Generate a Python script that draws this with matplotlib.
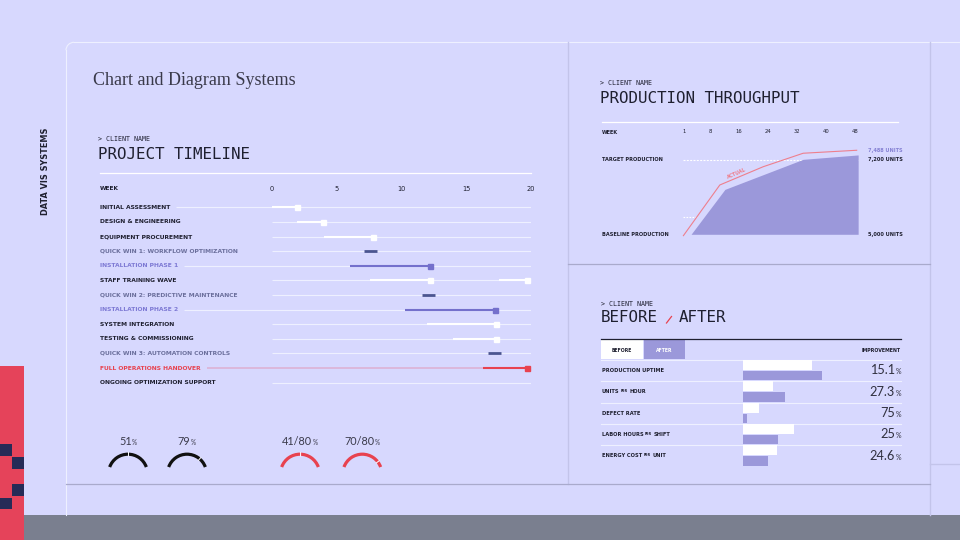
import matplotlib
matplotlib.use("Agg")
import numpy as np
import matplotlib.pyplot as plt
from matplotlib import transforms
from matplotlib.patches import Rectangle, Arc
from matplotlib.transforms import offset_copy

BG = "#d7d8fe"
INK = "#1f2030"
TRACK = "#eef0ff"
SLATE = "#4b5590"
SLATE_TXT = "#6b6f9c"
PURPLE = "#7470cc"
PURPLE_TXT = "#7d79d4"
LAV = "#9b98da"
RED = "#e8424f"
PINK = "#dcb2d4"
ACT_RED = "#ee7f8d"
FRAME = "#c3c4ea"
RULE = "#a9aacc"
MONO = "DejaVu Sans Mono"
LIGHT = ["Lato", "DejaVu Sans"]

# project timeline (weeks)
TASKS = [
    "INITIAL ASSESSMENT", "DESIGN & ENGINEERING", "EQUIPMENT PROCUREMENT",
    "QUICK WIN 1: WORKFLOW OPTIMIZATION", "INSTALLATION PHASE 1", "STAFF TRAINING WAVE",
    "QUICK WIN 2: PREDICTIVE MAINTENANCE", "INSTALLATION PHASE 2", "SYSTEM INTEGRATION",
    "TESTING & COMMISSIONING", "QUICK WIN 3: AUTOMATION CONTROLS",
    "FULL OPERATIONS HANDOVER", "ONGOING OPTIMIZATION SUPPORT",
]
TASK_KIND = ["task", "task", "task", "quick", "phase", "task", "quick", "phase",
             "task", "task", "quick", "handover", "ongoing"]
TASK_START = [0, 1.9, 4.0, 7.1, 6.0, 7.6, 11.6, 10.3, 12.0, 14.0, 16.7, 16.3, 17.6]
TASK_END = [1.9, 3.9, 7.8, 8.1, 12.2, 12.2, 12.6, 17.2, 17.3, 17.3, 17.7, 19.7, 20.05]
EXTRA_ROW = [5]          # staff training has a second block
EXTRA_START = [17.5]
EXTRA_END = [19.7]
LABEL_TRACK_ROWS = [0, 4, 7, 11]
WEEK_TICKS = [0, 5, 10, 15, 20]

# gauges
GAUGE_TEXT = ["51", "79", "41/80", "70/80"]
GAUGE_VALUE = [0.51, 0.79, 41 / 80, 70 / 80]
GAUGE_COLOR = ["#111111", "#111111", RED, RED]

# production throughput
THR_TICKS = [1, 8, 16, 24, 32, 40, 48]
ACTUAL_WEEKS = [0.7, 10.7, 22.6, 33.6, 48.3]
ACTUAL_UNITS = [4960, 6460, 7000, 7400, 7488]
PLAN_WEEKS = [2.8, 12.1, 33.6, 48.7]
PLAN_UNITS = [5000, 6330, 7220, 7350]
BASELINE = 5000
TARGET = 7200
GUIDE = 5500
UNIT_VALUES = [7488, 7200, 5000]
UNIT_TEXT = ["7,488 UNITS", "7,200 UNITS", "5,000 UNITS"]

# before / after
METRICS = [["PRODUCTION UPTIME"], ["UNITS", "HOUR"], ["DEFECT RATE"],
           ["LABOR HOURS", "SHIFT"], ["ENERGY COST", "UNIT"]]
BEFORE = [69, 30, 16, 51, 34]
AFTER = [79, 42, 4, 35, 25]
IMPROVEMENT = ["15.1", "27.3", "75", "25", "24.6"]

fig = plt.figure(figsize=(9.6, 5.4), dpi=100, facecolor=BG)
renderer = fig.canvas.get_renderer()

ov = fig.add_axes([0, 0, 1, 1])
ov.set_xlim(0, 960)
ov.set_ylim(540, 0)
ov.axis("off")
ov.set_zorder(0)


def px_axes(x0, y0, x1, y1):
    ax = fig.add_axes([x0 / 960, 1 - y1 / 540, (x1 - x0) / 960, (y1 - y0) / 540])
    ax.set_facecolor("none")
    for s in ax.spines.values():
        s.set_visible(False)
    ax.set_yticks([])
    ax.set_zorder(1)
    return ax


def run_text(ax, x, y, pieces, transform, align="left", va="baseline", dy0=0.0):
    # pieces: (text, size, color, weight, family, dy, gap)
    items = []
    for s, size, color, weight, family, dy, gap in pieces:
        t = ax.text(x, y, s, transform=transform, fontsize=size, color=color,
                    fontweight=weight, family=family, ha="left", va=va)
        items.append((t, t.get_window_extent(renderer).width, dy, gap))
    total = sum(w + g for _, w, _, g in items) - items[-1][3]
    adv = {"left": 0.0, "center": -total / 2, "right": -total}[align]
    for t, w, dy, gap in items:
        t.set_transform(offset_copy(transform, fig=fig, x=adv, y=dy + dy0, units="dots"))
        adv += w + gap


# ---------- frame / decoration
ov.plot([74, 960], [42.3, 42.3], color=TRACK, lw=0.8)
ov.add_patch(Arc((74, 50.3), 16, 16, theta1=180, theta2=270, color=TRACK, lw=0.8))
ov.plot([66, 66], [50.3, 515], color=TRACK, lw=0.8)
ov.plot([568, 568], [42.3, 484.3], color=FRAME, lw=1.0)
ov.plot([930, 930], [42.3, 515], color=FRAME, lw=1.0)
ov.plot([568, 930], [264.3, 264.3], color=RULE, lw=0.9)
ov.plot([66, 930], [484.3, 484.3], color=RULE, lw=0.9)
ov.plot([930, 960], [464.3, 464.3], color=FRAME, lw=1.0)
ov.add_patch(Rectangle((24, 515), 936, 25, color="#7a7f8f", lw=0))
ov.add_patch(Rectangle((0, 366), 24, 174, color="#e5435a", lw=0))
for sx, sy in [(0, 444.3), (12.3, 457.3), (12.3, 484.3), (0, 497.7)]:
    ov.add_patch(Rectangle((sx, sy), 11.7, 11.7, color="#262b57", lw=0))

ov.text(46, 171, "DATA VIS SYSTEMS", rotation=90, ha="center", va="center",
        fontsize=5.9, fontweight="bold", color=INK)
ov.text(93, 80.7, "Chart and Diagram Systems", family="Liberation Serif",
        fontsize=13, color="#3a3a4a", va="center")

# ---------- project timeline
ov.text(98, 139.3, "> CLIENT NAME", family=MONO, fontsize=4.8, color=INK, va="center")
ov.text(97.5, 154.3, "PROJECT TIMELINE", family=MONO, fontsize=11.4, color=INK, va="center")
ov.plot([100, 531], [173.3, 173.3], color="white", lw=0.9)
ov.text(100, 189, "WEEK", fontsize=4.2, fontweight="bold", color=INK, va="center")

ax_tl = px_axes(100, 200, 531, 390)
ax_tl.set_xlim(-20 * 172 / 259, 20)
ax_tl.set_ylim(len(TASKS) - 0.5, -0.5)
ax_tl.xaxis.tick_top()
ax_tl.set_xticks(WEEK_TICKS)
ax_tl.set_xticklabels([str(w) for w in WEEK_TICKS])
ax_tl.tick_params(axis="x", length=0, pad=6, labelsize=4.8, labelcolor=INK)

label_color = {"task": INK, "quick": SLATE_TXT, "phase": PURPLE_TXT,
               "handover": RED, "ongoing": INK}
x_left = ax_tl.get_xlim()[0]
for i, (name, kind) in enumerate(zip(TASKS, TASK_KIND)):
    t = ax_tl.text(x_left, i, name, fontsize=4.3, fontweight="bold",
                   color=label_color[kind], va="center", ha="left")
    track_from = 0.0
    if i in LABEL_TRACK_ROWS:
        bb = t.get_window_extent(renderer)
        track_from = ax_tl.transData.inverted().transform((bb.x1 + 6, 0))[0]
    tcolor = PINK if kind == "handover" else TRACK
    tlw = 1.2 if kind == "handover" else 0.8
    ax_tl.hlines(i, track_from, 20, color=tcolor, lw=tlw, zorder=1)

    s, e = TASK_START[i], TASK_END[i]
    if kind == "quick":
        ax_tl.hlines(i, s, e, color=SLATE, lw=2.0, zorder=3)
    elif kind == "ongoing":
        ax_tl.annotate("", xy=(e, i), xytext=(s, i),
                       arrowprops=dict(arrowstyle="-|>", color="white", lw=1.3,
                                       mutation_scale=5, shrinkA=0, shrinkB=0))
    else:
        col = {"task": "white", "phase": PURPLE, "handover": RED}[kind]
        ax_tl.hlines(i, s, e, color=col, lw=1.5, zorder=3)
        ax_tl.plot([e], [i], marker="s", ms=3.6, color=col, mec=col, zorder=4)

for r, s, e in zip(EXTRA_ROW, EXTRA_START, EXTRA_END):
    ax_tl.hlines(r, s, e, color="white", lw=1.5, zorder=3)
    ax_tl.plot([e], [r], marker="s", ms=3.6, color="white", zorder=4)

# ---------- gauges
gauge_x = [128, 187, 300, 362.3]
gauge_r = 19.5
for cx, txt, val, col in zip(gauge_x, GAUGE_TEXT, GAUGE_VALUE, GAUGE_COLOR):
    ov.add_patch(Arc((cx, 473.7), 2 * gauge_r, 2 * gauge_r, theta1=200, theta2=340,
                     color=col, lw=2.3))
    ang = np.deg2rad(160 - val * 140)
    ov.plot([cx + (gauge_r - 1.8) * np.cos(ang), cx + (gauge_r + 1.8) * np.cos(ang)],
            [473.7 - (gauge_r - 1.8) * np.sin(ang), 473.7 - (gauge_r + 1.8) * np.sin(ang)],
            color="white", lw=0.7)
    run_text(ov, cx, 444.8, [(txt, 7.8, "#3a3a4a", "normal", LIGHT, 0, 0.5),
                             ("%", 4.7, "#3a3a4a", "normal", LIGHT, 0, 0)],
             ov.transData, align="center")

# ---------- production throughput
ov.text(600, 83.3, "> CLIENT NAME", family=MONO, fontsize=4.8, color=INK, va="center")
ov.text(599.5, 98.3, "PRODUCTION THROUGHPUT", family=MONO, fontsize=11.4,
        color=INK, va="center")
ov.plot([602, 898], [122.3, 122.3], color="white", lw=0.9)
ov.text(602, 132, "WEEK", fontsize=3.6, fontweight="bold", color=INK, va="center")

ax_thr = px_axes(680, 140, 862, 240)
ax_thr.set_xlim(-0.236, 49.76)
ax_thr.set_ylim(4831, 7792)
ax_thr.xaxis.tick_top()
ax_thr.set_xticks(THR_TICKS)
ax_thr.set_xticklabels([str(w) for w in THR_TICKS])
ax_thr.tick_params(axis="x", length=0, pad=4.3, labelsize=3.8, labelcolor=INK)

guide_end = np.interp(GUIDE, ACTUAL_UNITS, ACTUAL_WEEKS)
ax_thr.hlines(GUIDE, ACTUAL_WEEKS[0], guide_end, color="white", lw=0.8,
              linestyles=(0, (1.5, 1.2)), zorder=1)
ax_thr.hlines(TARGET, ACTUAL_WEEKS[0], PLAN_WEEKS[-1], color="white", lw=0.8,
              linestyles=(0, (1.8, 1.2)), zorder=1)
ax_thr.fill_between(PLAN_WEEKS, PLAN_UNITS, BASELINE, color=LAV, lw=0, zorder=2)
ax_thr.plot(ACTUAL_WEEKS, ACTUAL_UNITS, color=ACT_RED, lw=0.8, zorder=3)
ax_thr.text(15.4, 6800, "ACTUAL", rotation=24, color=ACT_RED, fontsize=3.4,
            fontweight="bold", ha="center", va="center", rotation_mode="anchor")

thr_blend = transforms.blended_transform_factory(ov.transData, ax_thr.transData)
ax_thr.text(602, TARGET, "TARGET PRODUCTION", transform=thr_blend, fontsize=3.6,
            fontweight="bold", color=INK, va="center")
ax_thr.text(602, BASELINE, "BASELINE PRODUCTION", transform=thr_blend, fontsize=3.6,
            fontweight="bold", color=INK, va="center")
for v, txt, col in zip(UNIT_VALUES, UNIT_TEXT, ["#8682d4", INK, INK]):
    ax_thr.text(868, v, txt, transform=thr_blend, fontsize=3.6, fontweight="bold",
                color=col, va="center")

# ---------- before / after
ov.text(601, 303.7, "> CLIENT NAME", family=MONO, fontsize=4.8, color=INK, va="center")
ov.text(600.5, 318, "BEFORE", family=MONO, fontsize=11.4, color=INK, va="center")
ov.plot([666.5, 671.5], [323, 316.5], color=RED, lw=0.9)
ov.text(678.5, 318, "AFTER", family=MONO, fontsize=11.4, color=INK, va="center")
ov.plot([601, 901], [339.3, 339.3], color=INK, lw=0.9)
ov.add_patch(Rectangle((601, 340), 41.7, 19.3, color="white", lw=0))
ov.add_patch(Rectangle((644, 340), 41, 19.3, color=LAV, lw=0))
ov.text(621.8, 350, "BEFORE", fontsize=3.3, fontweight="bold", color=INK,
        ha="center", va="center")
ov.text(664.5, 350, "AFTER", fontsize=3.3, fontweight="bold", color="white",
        ha="center", va="center")
ov.text(901, 350, "IMPROVEMENT", fontsize=3.4, fontweight="bold", color=INK,
        ha="right", va="center")

ax_ba = px_axes(743.3, 360, 901, 466.7)
ax_ba.set_xlim(0, 157.7)
ax_ba.set_ylim(len(METRICS), 0)
ax_ba.set_xticks([])
ba_blend = transforms.blended_transform_factory(ov.transData, ax_ba.transData)
rows = np.arange(len(METRICS))
for i in rows:
    ax_ba.plot([601, 901], [i, i], transform=ba_blend, color=TRACK, lw=0.8,
               zorder=1, clip_on=False)
ax_ba.barh(rows + 0.235, BEFORE, height=0.47, color="white", lw=0, zorder=2)
ax_ba.barh(rows + 0.735, AFTER, height=0.44, color=LAV, lw=0, zorder=2)

for i, parts in enumerate(METRICS):
    pieces = []
    for k, p in enumerate(parts):
        if k > 0:
            pieces.append(("PER", 2.3, INK, "bold", "DejaVu Sans", 1.3, 1.6))
        pieces.append((p, 3.7, INK, "bold", "DejaVu Sans", 0, 1.6))
    run_text(ax_ba, 601.7, i + 0.47, pieces, ba_blend, align="left", dy0=-1.9)
    run_text(ax_ba, 901, i + 0.47,
             [(IMPROVEMENT[i], 9.2, "#30303f", "normal", LIGHT, 0, 0.4),
              ("%", 5.0, "#30303f", "normal", LIGHT, 0, 0)],
             ba_blend, align="right", dy0=-4.3)

fig.savefig("out.png", dpi=100, facecolor=BG)
